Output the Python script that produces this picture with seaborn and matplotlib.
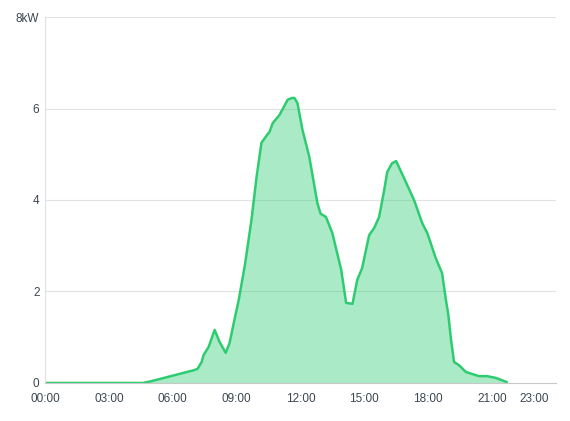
import matplotlib
matplotlib.use("Agg")
import matplotlib.pyplot as plt
import seaborn as sns
import pandas as pd

# time of day in hours, power in kW
hours = [0.0, 4.6, 5.0, 5.5, 6.0, 6.5, 7.0, 7.17, 7.36, 7.45, 7.69, 7.97, 8.2, 8.49,
         8.67, 8.9, 9.1, 9.4, 9.7, 9.94, 10.17, 10.4, 10.55, 10.7, 11.02, 11.4, 11.6,
         11.72, 11.86, 12.1, 12.42, 12.8, 12.95, 13.2, 13.5, 13.92, 14.15, 14.45,
         14.67, 14.9, 15.23, 15.47, 15.7, 15.94, 16.08, 16.3, 16.5, 16.95, 17.34,
         17.73, 17.97, 18.36, 18.66, 18.84, 18.95, 19.08, 19.22, 19.45, 19.78, 20.39,
         20.77, 21.19, 21.7]
power = [0.0, 0.0, 0.04, 0.1, 0.16, 0.22, 0.28, 0.31, 0.46, 0.61, 0.79, 1.16, 0.9, 0.66,
         0.87, 1.38, 1.81, 2.6, 3.56, 4.5, 5.25, 5.4, 5.49, 5.68, 5.86, 6.19, 6.23,
         6.23, 6.12, 5.53, 4.94, 3.93, 3.7, 3.63, 3.28, 2.47, 1.75, 1.73,
         2.25, 2.51, 3.23, 3.39, 3.63, 4.22, 4.61, 4.8, 4.85, 4.4, 4.0,
         3.49, 3.27, 2.73, 2.4, 1.81, 1.5, 0.94, 0.46, 0.39, 0.24, 0.15,
         0.15, 0.11, 0.02]

tick_hours = [0, 3, 6, 9, 12, 15, 18, 21, 23]
tick_labels = ["00:00", "03:00", "06:00", "09:00", "12:00", "15:00", "18:00", "21:00", "23:00"]
y_ticks = [0, 2, 4, 6, 8]
y_labels = ["0", "2", "4", "6", "8kW"]

df = pd.DataFrame({"hour": hours, "kw": power})

sns.set_style("white")
plt.rcParams["font.family"] = ["Liberation Sans", "DejaVu Sans"]

fig = plt.figure(figsize=(5.7, 4.21), dpi=100)
ax = fig.add_axes([0.079, 0.0903, 0.896, 0.8693])

line_color = "#2ecc71"
sns.lineplot(data=df, x="hour", y="kw", color=line_color, linewidth=1.8, ax=ax)
ax.fill_between(df["hour"], df["kw"], color=line_color, alpha=0.4, linewidth=0)

ax.set_xlim(0, 24)
ax.set_ylim(0, 8)
ax.set_xticks(tick_hours)
ax.set_xticklabels(tick_labels)
ax.set_yticks(y_ticks)
ax.set_yticklabels(y_labels)
ax.set_xlabel("")
ax.set_ylabel("")
ax.grid(axis="y", color="#e2e2e2", linewidth=0.8)
ax.set_axisbelow(True)
ax.tick_params(length=0, labelsize=8.5, colors="#3c4650", pad=7)
ax.tick_params(axis="y", pad=4)

for side in ["top", "right"]:
    ax.spines[side].set_visible(False)
ax.spines["left"].set_color("#e2e2e2")
ax.spines["bottom"].set_color("#c8c8c8")

fig.savefig("out.png", dpi=100)
plt.close(fig)
